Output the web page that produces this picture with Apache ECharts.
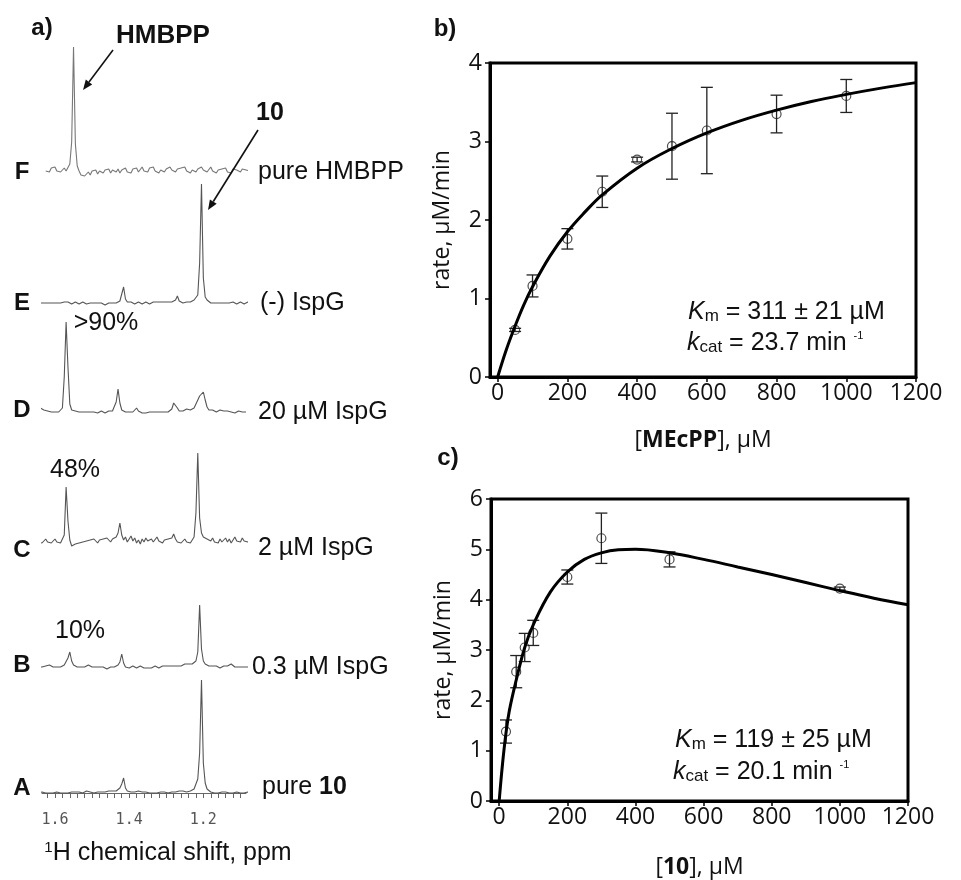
<!DOCTYPE html>
<html><head><meta charset="utf-8">
<script src="https://cdn.jsdelivr.net/npm/echarts@6/dist/echarts.min.js"></script>
<style>html,body{margin:0;padding:0;background:#fff}#c{width:961px;height:880px}</style>
</head><body><div id="c"></div>
<script>
// ---------- Panel a: 1H NMR spectra (intensity in arbitrary units, sampled every 0.005 ppm from 1.645 ppm) ----------
const ppmStart = 1.645, ppmStep = 0.005;
const ppmLabels = [1.6, 1.4, 1.2];
const specNames = ['A', 'B', 'C', 'D', 'E', 'F'];
const specTags = ['pure {b|10}', '0.3 µM IspG', '2 µM IspG', '20 µM IspG', '(-) IspG', 'pure HMBPP'];
const specA = [0,0,1,0,0,-1,0,1,0,0, 1,0,0,1,0,1,0,0,1,0, 1,0,1,1,0,1,2,3,1,1, 0,1,1,0,1,2,1,1,2,1,
  2,1,2,3,5,9,15,5,2,1, 1,0,1,1,2,3,1,0,1,0, 0,1,0,1,0,0,1,0,1,1, 0,1,1,2,1,1,2,1,2,2,
  1,2,2,3,4,6,14,40,113,30, 10,4,2,1,1,0,1,0,0,1, 0,1,0,0,1,0,0,1,0,0, 1,0,0,1,0];
const specB = [0,1,0,-1,1,0,2,1,0,1, 0,-1,0,1,2,4,9,15,6,2, 1,0,1,0,-1,0,1,2,1,0, 1,0,-1,0,1,0,-1,-2,-1,0,
  -1,0,1,2,5,13,4,0,-2,-1, 0,1,0,-1,0,1,0,-1,0,-1, 0,-1,0,1,0,-1,0,1,0,1, 0,1,2,1,3,1,2,1,2,3,
  2,3,2,3,4,6,15,62,18,6, 3,2,1,2,1,0,1,0,-1,0, 1,0,1,2,3,1,0,1,0,-1, 0,1,0,1,0];
const specC = [1,3,0,2,4,1,3,0,2,4, 1,3,0,2,8,56,22,3,-3,-2, -1,-3,0,-2,1,-1,2,0,3,1, 4,2,0,3,1,4,2,5,3,1,
  4,2,6,10,20,8,3,6,1,4, 7,2,5,0,3,-1,4,1,5,2, 0,4,1,3,6,2,4,0,3,1, 4,2,5,9,4,1,3,0,2,4,
  1,3,0,2,6,30,90,25,10,6, 8,4,6,2,5,1,3,0,4,1, 3,5,1,4,0,3,6,2,4,1, 5,2,3,1,2];
const specD = [1,4,5,2,0,1,-1,0,1,0, -1,0,1,4,35,90,45,8,2,0, 1,-1,0,1,0,-1,0,1,0,-1, 0,1,-1,0,1,0,-1,0,1,2,
  1,3,10,23,9,2,1,0,-1,0, 1,0,2,4,1,0,-1,0,-1,-1, 0,-1,0,-1,0,1,0,-1,0,1, 0,1,3,9,11,4,1,0,1,3,
  3,1,2,3,4,8,12,16,14,20, 12,5,2,1,2,1,0,1,2,0, 1,0,1,2,0,1,-1,0,1,0, 0,1,0,null,null];
const specE = [0,1,0,-1,0,1,0,-1,0,1, 0,1,0,2,1,3,1,0,-1,0, 1,0,-1,0,1,0,-1,-1,0,1, 0,-1,0,1,0,-1,-2,-1,0,-1,
  0,1,0,1,2,4,16,4,1,0, 1,0,-1,0,1,0,-1,0,1,0, -1,0,1,2,1,0,1,2,1,0, 1,0,1,2,3,7,2,1,0,1,
  1,2,1,2,3,4,8,40,119,25, 6,3,1,0,1,0,-1,0,1,0, -1,0,1,0,0,1,0,-1,0,1, 0,-1,0,1,0];
const specF = [null,null,null,null,1,3,0,4,2,5, 1,3,0,2,4,1,3,8,30,125, 28,6,1,-3,-1,-4,-2,0,-3,1, -1,2,-2,1,3,-1,2,0,3,-1,
  2,4,0,3,-1,2,1,4,0,2, -1,3,1,4,0,2,5,1,3,0, 4,2,5,1,3,-1,2,4,0,3, 1,5,2,4,0,3,1,4,2,5,
  1,3,-1,2,4,0,3,1,5,2, 4,0,2,5,1,3,-1,2,0,3, 1,4,0,2,-1,3,1,2,4,0, 3,1,2,0,1];
const spectra = [specA, specB, specC, specD, specE, specF];

// ---------- Panel b: IspG rate vs [MEcPP] ----------
const mecppConc = [50, 100, 200, 300, 400, 500, 600, 800, 1000];
const mecppRate = [0.60, 1.16, 1.76, 2.36, 2.77, 2.94, 3.14, 3.35, 3.58];
const mecppErr  = [0.02, 0.14, 0.13, 0.20, 0.03, 0.42, 0.55, 0.24, 0.21];
const mecppFitX = [0, 25, 50, 75, 100, 150, 200, 250, 300, 400, 500, 600, 700, 800, 900, 1000, 1100, 1200];
const mecppFitY = [0, 0.35, 0.65, 0.92, 1.15, 1.54, 1.85, 2.10, 2.32, 2.66, 2.91, 3.11, 3.27, 3.40, 3.51, 3.60, 3.68, 3.75];

// ---------- Panel c: IspG rate vs [10] ----------
const c10Conc = [20, 50, 75, 100, 200, 300, 500, 1000];
const c10Rate = [1.38, 2.57, 3.05, 3.34, 4.45, 5.22, 4.80, 4.22];
const c10Err  = [0.23, 0.32, 0.28, 0.25, 0.14, 0.50, 0.15, 0.03];
const c10FitX = [0, 10, 20, 30, 50, 75, 100, 150, 200, 250, 300, 350, 400, 500, 600, 700, 800, 900, 1000, 1100, 1200];
const c10FitY = [0, 0.75, 1.35, 1.80, 2.40, 3.05, 3.50, 4.15, 4.55, 4.80, 4.93, 4.99, 5.00, 4.93, 4.80, 4.65, 4.50, 4.34, 4.18, 4.03, 3.90];

const concTicks = [0, 200, 400, 600, 800, 1000, 1200];

// ---------- layout ----------
const baselines = [793, 667, 543, 412, 303, 172];   // screen y of each trace baseline (A..F)
const SANS = 'Liberation Sans';
const CAL = 'Open Sans';

const grids = [], xAxes = [], yAxes = [], series = [];
const ppmTicks = [];
for (let v = 1.10; v <= 1.6201; v += 0.02) ppmTicks.push(+v.toFixed(2));

spectra.forEach((spec, k) => {
  const isA = k === 0;
  const h = isA ? 139 : 130;
  grids.push({left: 42, width: 204, top: baselines[k] - 130, height: h});
  xAxes.push({
    type: 'value', gridIndex: k, min: 1.085, max: 1.635, inverse: true, show: isA,
    axisLine: {show: true, lineStyle: {color: '#666', width: 1}},
    axisTick: {show: true, inside: false, length: 5, customValues: ppmTicks, lineStyle: {color: '#666'}},
    axisLabel: {show: true, customValues: ppmLabels, formatter: v => v.toFixed(1),
      fontFamily: 'DejaVu Sans Mono', fontSize: 15, color: '#555', margin: 11},
    splitLine: {show: false}
  });
  yAxes.push({type: 'value', gridIndex: k, min: isA ? -9 : 0, max: 130, show: false, splitLine: {show: false}});
  series.push({
    type: 'line', xAxisIndex: k, yAxisIndex: k, showSymbol: false, clip: false, animation: false,
    lineStyle: {color: k === 5 ? '#777' : '#555', width: 1.1},
    data: spec.map((v, i) => [ppmStart - i * ppmStep, v])
  });
});

function kinAxes(gi, min, yMax, xName, yName, xGap) {
  xAxes.push({
    type: 'value', gridIndex: gi, min: min, max: 1200,
    axisLine: {show: true, onZero: false, lineStyle: {color: '#000', width: 3}},
    axisTick: {show: true, length: 5, customValues: concTicks, lineStyle: {color: '#000', width: 1.5}},
    axisLabel: {customValues: concTicks, formatter: v => String(v), fontFamily: CAL, fontSize: 23, color: '#111', margin: 5},
    splitLine: {show: false},
    name: xName, nameLocation: 'middle', nameGap: xGap,
    nameTextStyle: {fontFamily: CAL, fontSize: 23, color: '#111', rich: {b: {fontFamily: CAL, fontSize: 23, fontWeight: 'bold', color: '#111'}, n: {fontFamily: CAL, fontSize: 23, color: '#111'}}}
  });
  yAxes.push({
    type: 'value', gridIndex: gi, min: 0, max: yMax, interval: 1,
    axisLine: {show: true, onZero: false, lineStyle: {color: '#000', width: 3}},
    axisTick: {show: true, length: 5, lineStyle: {color: '#000', width: 1.5}},
    axisLabel: {fontFamily: CAL, fontSize: 23, color: '#111', margin: 8},
    splitLine: {show: false},
    name: yName, nameLocation: 'middle', nameGap: 36,
    nameTextStyle: {fontFamily: CAL, fontSize: 23, color: '#111'}
  });
}

function errRender(params, api) {
  const x = api.value(0), y = api.value(1), e = api.value(2);
  const t = api.coord([x, y + e]), b = api.coord([x, y - e]);
  const w = 6, st = {stroke: '#222', lineWidth: 1.3};
  return {type: 'group', children: [
    {type: 'line', shape: {x1: t[0], y1: t[1], x2: b[0], y2: b[1]}, style: st},
    {type: 'line', shape: {x1: t[0] - w, y1: t[1], x2: t[0] + w, y2: t[1]}, style: st},
    {type: 'line', shape: {x1: b[0] - w, y1: b[1], x2: b[0] + w, y2: b[1]}, style: st}
  ]};
}

function kinSeries(ax, conc, rate, err, fx, fy) {
  series.push({type: 'custom', xAxisIndex: ax, yAxisIndex: ax, renderItem: errRender, animation: false,
    data: conc.map((x, i) => [x, rate[i], err[i]]), z: 3});
  series.push({type: 'scatter', xAxisIndex: ax, yAxisIndex: ax, symbol: 'circle', symbolSize: 9, animation: false,
    itemStyle: {color: 'rgba(0,0,0,0)', borderColor: '#222', borderWidth: 1.2},
    data: conc.map((x, i) => [x, rate[i]]), z: 4});
  series.push({type: 'line', xAxisIndex: ax, yAxisIndex: ax, smooth: 0.4, showSymbol: false, animation: false,
    lineStyle: {color: '#000', width: 3}, data: fx.map((x, i) => [x, fy[i]]), z: 5});
}

// panel b grid (index 6)
grids.push({left: 490, right: 45, top: 63, bottom: 503, show: true, borderColor: '#000', borderWidth: 3});
kinAxes(6, -22, 4, '[{b|MEcPP}]{n|, µM}', 'rate, µM/min', 52);
kinSeries(6, mecppConc, mecppRate, mecppErr, mecppFitX, mecppFitY);
// panel c grid (index 7)
grids.push({left: 491, right: 53, top: 499, bottom: 74, show: true, borderColor: '#000', borderWidth: 3});
kinAxes(7, -24, 6, '[{b|10}]{n|, µM}', 'rate, µM/min', 55);
kinSeries(7, c10Conc, c10Rate, c10Err, c10FitX, c10FitY);

// ---------- text / arrows ----------
const txt = (x, y, text, size, opts) => Object.assign({
  type: 'text', x: x, y: y, z: 10,
  style: Object.assign({text: text, fontFamily: SANS, fontSize: size, fill: '#111', align: 'left', verticalAlign: 'middle'}, opts || {})
});
const graphics = [];
graphics.push(txt(42, 28, 'a)', 24, {fontWeight: 'bold', align: 'center'}));
graphics.push(txt(445, 29, 'b)', 24, {fontWeight: 'bold', align: 'center'}));
graphics.push(txt(448, 458, 'c)', 24, {fontWeight: 'bold', align: 'center'}));
graphics.push(txt(163, 36, 'HMBPP', 26, {fontWeight: 'bold', align: 'center'}));
graphics.push(txt(270, 113, '10', 25, {fontWeight: 'bold', align: 'center'}));
const labelY = [788, 665, 550, 410, 303, 172];
const tagX = [262, 252, 258, 258, 260, 258];
const tagY = [787, 667, 548, 412, 303, 172];
specNames.forEach((n, k) => {
  graphics.push(txt(22, labelY[k], n, 24, {fontWeight: 'bold', align: 'center'}));
  graphics.push(txt(tagX[k], tagY[k], specTags[k], 25, {rich: {b: {fontFamily: SANS, fontSize: 25, fontWeight: 'bold', fill: '#111'}}}));
});
graphics.push(txt(106, 323, '>90%', 25, {align: 'center'}));
graphics.push(txt(75, 470, '48%', 25, {align: 'center'}));
graphics.push(txt(80, 631, '10%', 25, {align: 'center'}));
graphics.push(txt(168, 853, '{s|1}H chemical shift, ppm', 25, {align: 'center',
  rich: {s: {fontFamily: SANS, fontSize: 15, verticalAlign: 'top', fill: '#111'}}}));

function arrow(x1, y1, x2, y2) {
  const dx = x2 - x1, dy = y2 - y1, L = Math.hypot(dx, dy), ux = dx / L, uy = dy / L;
  const bx = x2 - 10 * ux, by = y2 - 10 * uy, px = -uy, py = ux;
  graphics.push({type: 'line', z: 10, shape: {x1: x1, y1: y1, x2: bx, y2: by}, style: {stroke: '#111', lineWidth: 1.6}});
  graphics.push({type: 'polygon', z: 10, shape: {points: [[x2, y2], [bx + 4 * px, by + 4 * py], [bx - 4 * px, by - 4 * py]]}, style: {fill: '#111'}});
}
arrow(113, 50, 83, 90);
arrow(258, 130, 208, 210);

const kinRich = {
  i: {fontFamily: SANS, fontSize: 25, fontStyle: 'italic', fill: '#111'},
  s: {fontFamily: SANS, fontSize: 17, fill: '#111', verticalAlign: 'bottom'},
  n: {fontFamily: SANS, fontSize: 25, fill: '#111'},
  p: {fontFamily: SANS, fontSize: 11, fill: '#111', verticalAlign: 'top'}
};
graphics.push(txt(688, 312, '{i|K}{s|m}{n| = 311 ± 21 µM}', 25, {rich: kinRich}));
graphics.push(txt(687, 343, '{i|k}{s|cat}{n| = 23.7 min }{p|-1}', 25, {rich: kinRich}));
graphics.push(txt(675, 740, '{i|K}{s|m}{n| = 119 ± 25 µM}', 25, {rich: kinRich}));
graphics.push(txt(673, 772, '{i|k}{s|cat}{n| = 20.1 min }{p|-1}', 25, {rich: kinRich}));

const chart = echarts.init(document.getElementById('c'), null, {renderer: 'canvas'});
chart.setOption({
  backgroundColor: '#fff',
  animation: false,
  grid: grids, xAxis: xAxes, yAxis: yAxes, series: series,
  graphic: graphics
});
</script></body></html>
